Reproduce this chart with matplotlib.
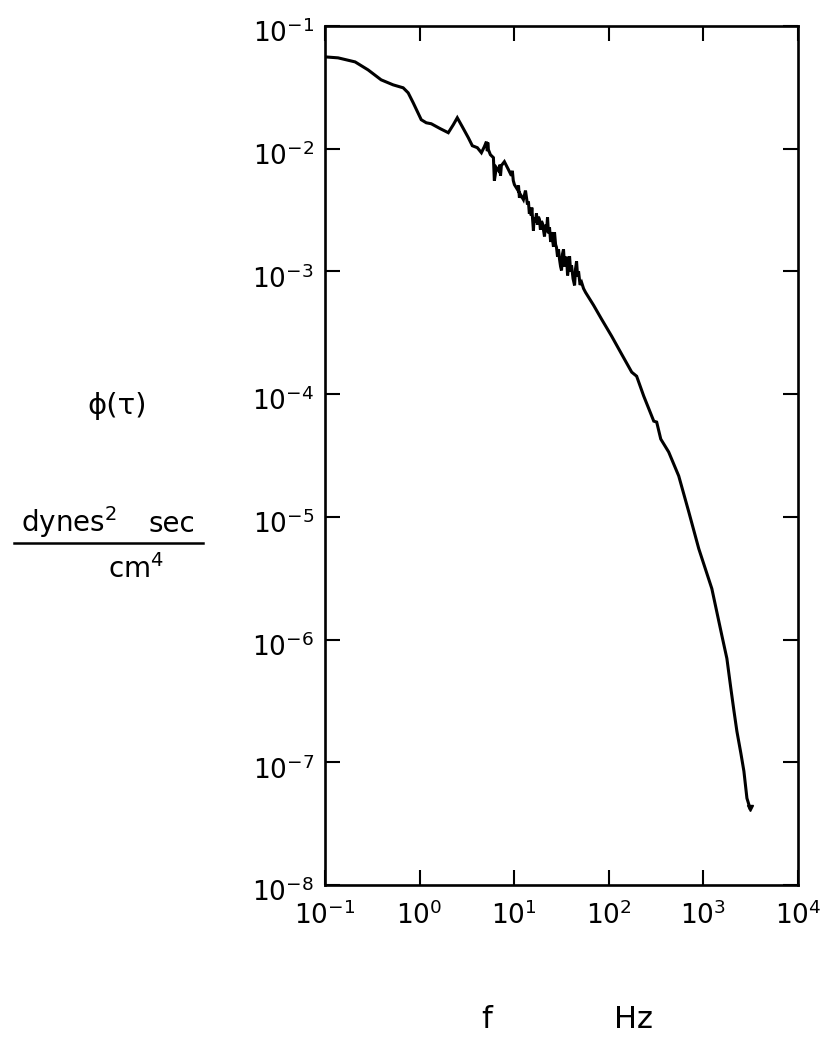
import matplotlib
matplotlib.use("Agg")
import matplotlib.pyplot as plt
import matplotlib.transforms as mtransforms
from matplotlib.lines import Line2D
import numpy as np

plt.rcParams['font.family'] = ['DejaVu Sans']
plt.rcParams['mathtext.fontset'] = 'dejavusans'
plt.rcParams['axes.unicode_minus'] = False

# Pressure spectrum phi(tau) versus frequency, stored as decades (log10)
log_f = [-1.000, -0.862, -0.682, -0.545, -0.407, -0.280, -0.174, -0.121, -0.068,
         0.017, 0.070, 0.123, 0.218, 0.303, 0.356, 0.398, 0.451, 0.515, 0.557,
         0.610, 0.653, 0.684, 0.706, 0.716, 0.720, 0.727, 0.748, 0.780, 0.790,
         0.811, 0.843, 0.850, 0.855, 0.864, 0.896, 0.939, 0.970, 0.980, 0.990,
         1.002, 1.034, 1.045, 1.055, 1.066, 1.097, 1.119, 1.140, 1.150, 1.160,
         1.172, 1.180, 1.186, 1.193, 1.203, 1.210, 1.222, 1.235, 1.245, 1.256,
         1.267, 1.277, 1.288, 1.299, 1.320, 1.330, 1.341, 1.352, 1.362, 1.373,
         1.385, 1.395, 1.405, 1.415, 1.426, 1.437, 1.447, 1.458, 1.468, 1.479,
         1.490, 1.500, 1.510, 1.521, 1.532, 1.542, 1.553, 1.564, 1.575, 1.585,
         1.596, 1.606, 1.622, 1.638, 1.648, 1.659, 1.670, 1.680, 1.696, 1.712,
         1.733, 1.754, 1.839, 1.924, 2.030, 2.136, 2.242, 2.294, 2.369, 2.475,
         2.506, 2.549, 2.633, 2.739, 2.845, 2.951, 3.089, 3.195, 3.248, 3.290,
         3.322, 3.354, 3.396, 3.428, 3.460, 3.492]
log_phi = [-1.252, -1.260, -1.293, -1.358, -1.439, -1.480, -1.504, -1.545, -1.626,
           -1.764, -1.789, -1.797, -1.837, -1.870, -1.805, -1.748, -1.821, -1.911,
           -1.976, -1.992, -2.033, -1.984, -1.943, -2.020, -1.950, -2.008, -2.049,
           -2.073, -2.260, -2.154, -2.187, -2.130, -2.220, -2.138, -2.106, -2.171,
           -2.220, -2.180, -2.260, -2.293, -2.333, -2.300, -2.400, -2.374, -2.415,
           -2.341, -2.455, -2.430, -2.530, -2.496, -2.545, -2.480, -2.561, -2.667,
           -2.560, -2.600, -2.528, -2.620, -2.555, -2.577, -2.660, -2.590, -2.610,
           -2.715, -2.620, -2.680, -2.561, -2.690, -2.642, -2.760, -2.680, -2.740,
           -2.800, -2.683, -2.780, -2.805, -2.880, -2.820, -2.902, -2.960, -2.992,
           -2.860, -2.821, -2.960, -2.935, -2.880, -3.033, -2.960, -2.878, -3.000,
           -2.951, -3.060, -3.114, -2.980, -2.919, -3.040, -3.000, -3.110, -3.089,
           -3.140, -3.171, -3.276, -3.390, -3.528, -3.675, -3.821, -3.854, -4.016,
           -4.220, -4.228, -4.366, -4.472, -4.667, -4.959, -5.260, -5.585, -5.967,
           -6.154, -6.398, -6.577, -6.748, -6.927, -7.073, -7.293, -7.374]

x_exponents = [-1, 0, 1, 2, 3, 4]
y_exponents = [-1, -2, -3, -4, -5, -6, -7, -8]

freq = 10.0 ** np.array(log_f)
phi = 10.0 ** np.array(log_phi)

fig = plt.figure(figsize=(8.21, 10.38), dpi=100)
ax = fig.add_axes([0.3959, 0.1474, 0.5761, 0.8276])

ax.plot(freq, phi, color='black', lw=2.2, solid_joinstyle='miter')
ax.plot(freq[-1:], phi[-1:], marker='v', color='black', ms=5)

ax.set_xscale('log')
ax.set_yscale('log')
ax.set_xlim(1e-1, 1e4)
ax.set_ylim(1e-8, 1e-1)

ax.set_xticks([10.0 ** e for e in x_exponents])
ax.set_xticklabels([r'$\mathregular{10^{%d}}$' % e for e in x_exponents])
ax.set_yticks([10.0 ** e for e in y_exponents])
ax.set_yticklabels([r'$\mathregular{10^{%d}}$' % e for e in y_exponents])
ax.minorticks_off()

ax.tick_params(which='major', direction='in', length=11, width=1.5,
               top=True, right=True, labelsize=19, colors='black')
ax.tick_params(axis='x', pad=12)
ax.tick_params(axis='y', pad=8)
for sp in ax.spines.values():
    sp.set_linewidth(1.9)

# nudge the y tick labels slightly below their ticks
shift = mtransforms.ScaledTranslation(0, -0.05, fig.dpi_scale_trans)
for lab in ax.get_yticklabels():
    lab.set_transform(lab.get_transform() + shift)

# axis captions
fig.text(0.1425, 0.6089, 'ϕ(τ)', fontsize=21, ha='center', va='center')
fig.text(0.084, 0.4875, r'dynes$^{2}$', fontsize=20, ha='center', va='baseline')
fig.text(0.209, 0.4875, 'sec', fontsize=20, ha='center', va='baseline')
fig.add_artist(Line2D([0.017, 0.247], [0.4769, 0.4769], transform=fig.transFigure,
                      color='black', lw=1.8))
fig.text(0.165, 0.4432, r'cm$^{4}$', fontsize=20, ha='center', va='baseline')

fig.text(0.593, 0.0096, 'f', fontsize=22, ha='center', va='baseline')
fig.text(0.771, 0.0096, 'Hz', fontsize=22, ha='center', va='baseline')

fig.savefig('out.png', dpi=100)
